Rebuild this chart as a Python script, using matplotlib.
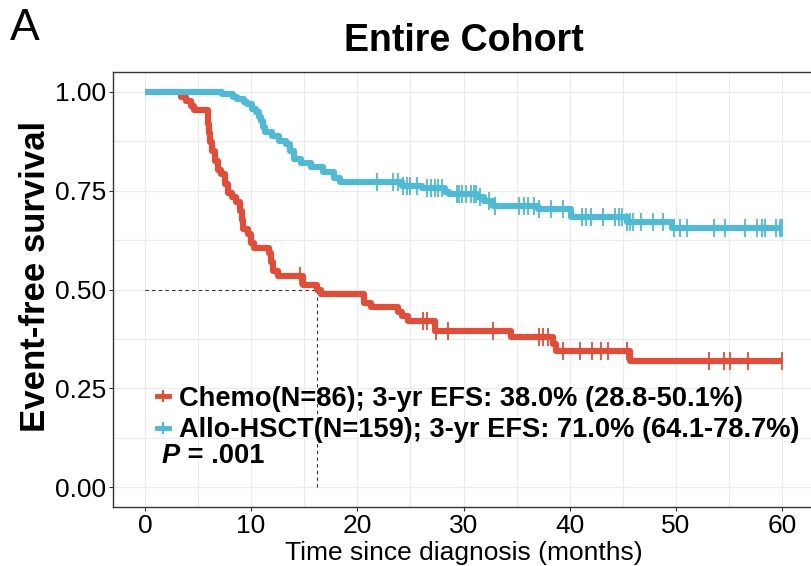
import numpy as np
import matplotlib.pyplot as plt
from matplotlib.lines import Line2D

plt.rcParams["font.family"] = ["Liberation Sans", "DejaVu Sans"]

# Kaplan-Meier step points (time in months, survival after the drop)
chemo_t = [0, 3.4, 3.9, 4.3, 4.6, 5.95, 6.05, 6.15, 6.3, 6.6, 6.9, 7.2, 7.5, 7.8, 8.2, 8.6,
           9.0, 9.1, 9.2, 9.7, 10.0, 10.3, 11.7, 11.9, 12.1, 12.5, 14.9, 16.2, 16.6, 20.6,
           21.3, 23.8, 24.2, 24.8, 27.3, 34.5, 38.4, 38.7, 45.7]
chemo_s = [1.0, 0.988, 0.977, 0.965, 0.953, 0.919, 0.895, 0.872, 0.849, 0.826, 0.803, 0.791,
           0.768, 0.745, 0.733, 0.721, 0.698, 0.675, 0.652, 0.640, 0.617, 0.605, 0.593, 0.570,
           0.547, 0.535, 0.511, 0.498, 0.488, 0.467, 0.455, 0.442, 0.434, 0.421, 0.395, 0.380,
           0.362, 0.345, 0.320]
chemo_cens = [14.6, 26.2, 26.6, 27.4, 28.5, 32.8, 37.1, 37.5, 38.0, 39.4, 41.0, 42.1, 42.9,
              43.6, 45.4, 53.1, 54.5, 55.1, 56.8, 60.0]

hsct_t = [0, 7.3, 8.3, 8.7, 9.3, 9.6, 10.1, 10.5, 10.7, 10.9, 11.1, 11.3, 12.0, 12.6, 13.3,
          13.7, 14.0, 14.7, 15.6, 16.8, 17.8, 18.4, 24.2, 26.1, 28.3, 28.6, 31.3, 31.9, 32.8,
          37.0, 40.1, 45.4, 49.6]
hsct_s = [1.0, 0.994, 0.987, 0.981, 0.975, 0.969, 0.956, 0.950, 0.937, 0.925, 0.912, 0.899,
          0.889, 0.876, 0.868, 0.849, 0.831, 0.821, 0.809, 0.796, 0.783, 0.771, 0.762, 0.756,
          0.747, 0.742, 0.733, 0.725, 0.711, 0.704, 0.684, 0.670, 0.655]
hsct_cens = [21.9, 23.4, 23.8, 24.3, 24.7, 25.0, 25.6, 26.6, 26.9, 27.3, 27.6, 28.0, 29.4,
             29.6, 29.9, 30.2, 30.7, 31.0, 31.2, 31.6, 32.4, 33.0, 35.2, 35.7, 36.1, 36.6,
             37.1, 38.2, 39.4, 41.2, 41.5, 42.0, 43.1, 44.3, 44.6, 44.9, 45.4, 45.7, 46.0,
             46.7, 47.8, 48.8, 49.8, 50.4, 51.0, 53.6, 54.6, 56.5, 57.6, 58.1, 58.4, 59.4,
             59.8, 60.0]

groups = ["Chemo(N=86); 3-yr EFS: 38.0% (28.8-50.1%)",
          "Allo-HSCT(N=159); 3-yr EFS: 71.0% (64.1-78.7%)"]
colors = ["#E64B35", "#4DBBD5"]
median_chemo = 16.2
t_max = 60

fig = plt.figure(figsize=(8.11, 5.66), dpi=100)
ax = fig.add_axes([113 / 811, 59 / 566, 701 / 811, 435 / 566])

for t, s, cens, c in [(chemo_t, chemo_s, chemo_cens, colors[0]),
                      (hsct_t, hsct_s, hsct_cens, colors[1])]:
    t = np.array(t + [t_max])
    s = np.array(s + [s[-1]])
    ax.step(t, s, where="post", color=c, lw=4.4, solid_capstyle="butt", zorder=3)
    cens = np.array(cens)
    idx = np.searchsorted(t, cens, side="right") - 1
    ax.plot(cens, s[idx], ls="none", marker="|", ms=13, mew=1.3, color=c, zorder=3)

# median line
ax.plot([0, median_chemo], [0.5, 0.5], ls=(0, (3, 3)), color="#333333", lw=0.8, zorder=2)
ax.plot([median_chemo, median_chemo], [0, 0.5], ls=(0, (3, 3)), color="#333333", lw=0.8, zorder=2)

ax.set_xlim(-3, 63)
ax.set_ylim(-0.05, 1.05)
ax.set_xticks(np.arange(0, 61, 10))
ax.set_xticks(np.arange(5, 60, 10), minor=True)
ax.set_yticks([0, 0.25, 0.5, 0.75, 1.0])
ax.set_yticklabels(["0.00", "0.25", "0.50", "0.75", "1.00"])
ax.set_yticks([0.125, 0.375, 0.625, 0.875], minor=True)
ax.grid(True, which="both", color="#EBEBEB", lw=0.9, zorder=0)
ax.set_axisbelow(True)
ax.tick_params(which="major", length=3, width=0.8, color="#333333", labelsize=19, pad=2)
ax.tick_params(which="minor", length=0)
for side in ["left", "top", "bottom"]:
    ax.spines[side].set_color("#333333")
    ax.spines[side].set_linewidth(1.0)
ax.spines["right"].set_visible(False)

ax.set_xlabel("Time since diagnosis (months)", fontsize=19, labelpad=2)
ax.set_ylabel("Event-free survival", fontsize=25, fontweight="bold")
ax.yaxis.set_label_coords(-0.087, 0.531)
ax.set_title("Entire Cohort", fontsize=27, fontweight="bold", pad=15)
fig.text(0.012, 0.985, "A", fontsize=32, va="top", ha="left")

handles = [Line2D([], [], color=c, lw=3.5, marker="|", ms=9, mew=1.5) for c in colors]
leg = ax.legend(handles, groups, loc="upper left", bbox_to_anchor=(157 / 811, 1 - 386 / 566),
                bbox_transform=fig.transFigure, frameon=False, handlelength=0.45,
                handletextpad=0.35, labelspacing=0.2, borderpad=0, borderaxespad=0,
                prop={"size": 19.6, "weight": "bold"})

p = fig.text(162 / 811, 1 - 456 / 566, "P", fontsize=19.6, fontweight="bold", fontstyle="italic",
             va="center", ha="left")
ax.annotate(" = .001", xy=(1, 0.5), xycoords=p, va="center", ha="left",
            fontsize=19.6, fontweight="bold")

fig.savefig("out.png", dpi=100)
